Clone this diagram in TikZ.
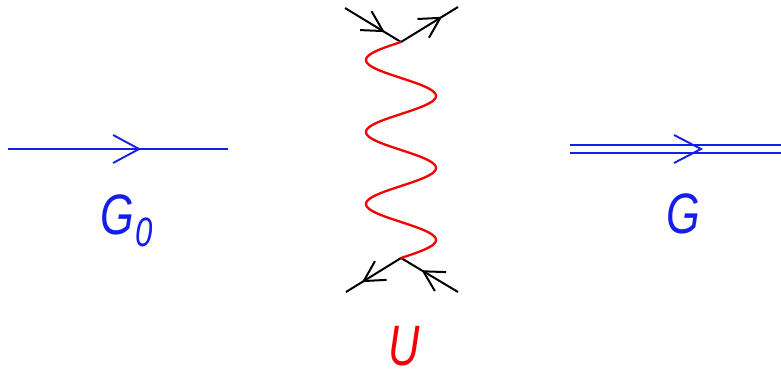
\documentclass[tikz,border=0pt]{standalone}
\usepackage{fontspec}
\setmainfont{Liberation Sans}
\usetikzlibrary{arrows.meta,decorations.markings,calc}
\definecolor{lblue}{RGB}{20,30,235}
\definecolor{lred}{RGB}{245,0,0}
\tikzset{
  fermion/.style={line width=2pt,line cap=butt},
  markat/.style={postaction={decorate},decoration={markings,
     mark=at position #1 with {\arrow[line width=2pt]{Straight Barb[length=20pt,width=22pt]}}}},
  bluemark/.style={postaction={decorate},decoration={markings,
     mark=at position #1 with {\arrow[line width=1.9pt]{Straight Barb[length=26pt,width=28pt]}}}},
  lbl/.style={inner sep=0pt,text depth=0pt,xscale=0.76,font=\itshape\fontsize{57}{57}\selectfont},
}
\begin{document}
\begin{tikzpicture}[x=1pt,y=-1pt]
\useasboundingbox (0,0) rectangle (781,374);
% left propagator
\coordinate (l1) at (8,149);
\coordinate (l2) at (228,149);
\draw[lblue,line width=1.9pt,bluemark=0.605] (l1) -- (l2);
\node[lbl,lblue,anchor=base west] (g0) at (100,234) {G\kern2pt\raisebox{-12pt}{\fontsize{41}{41}\selectfont 0}};
% right double propagator
\coordinate (r1) at (570,145);
\coordinate (r2) at (781,145);
\coordinate (r3) at (570,153);
\coordinate (r4) at (781,153);
\coordinate (rt) at (701,149);
\draw[lblue,line width=1.9pt] (r1) -- (r2);
\draw[lblue,line width=1.9pt] (r3) -- (r4);
\draw[lblue,line width=1.9pt] ($(rt)+(-27,-14)$) -- (rt) -- ($(rt)+(-27,14)$);
\node[lbl,lblue,anchor=base west] (g) at (666,233) {G};
% vertices
\coordinate (tv) at (401,42);
\coordinate (bv) at (401,258);
\coordinate (tl) at (345,8);
\coordinate (tr) at (458,7);
\coordinate (bl) at (346,292);
\coordinate (br) at (458,292);
\draw[black,fermion,markat=0.71] (tl) -- (tv);
\draw[black,fermion,markat=0.72] (tv) -- (tr);
\draw[black,fermion,markat=0.71] (bv) -- (bl);
\draw[black,fermion,markat=0.64] (br) -- (bv);
% interaction line
\draw[lred,line width=2.3pt] (tv) -- plot[variable=\t,domain=0:216,samples=160,smooth] ({401-35*sin(5*\t)},{42+\t}) -- (bv);
\node[lbl,lred,anchor=base west] (u) at (388,365) {U};
\end{tikzpicture}
\end{document}
